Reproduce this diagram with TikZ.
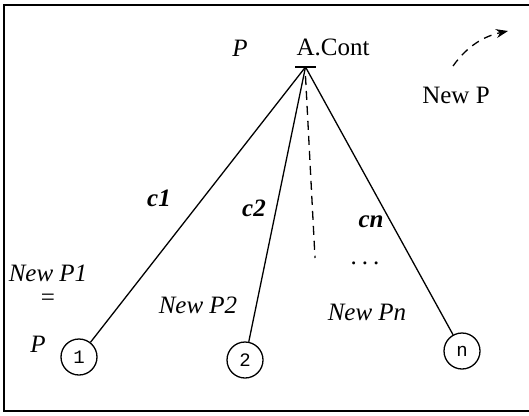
\documentclass[tikz,border=0pt]{standalone}
\usepackage{fontspec}
\setmainfont{Liberation Serif}
\setmonofont{Liberation Mono}
\usetikzlibrary{arrows.meta}
\tikzset{
  lbl/.style={inner sep=0pt, font=\fontsize{25}{29}\selectfont},
  ital/.style={lbl, font=\fontsize{25}{29}\selectfont\itshape},
  bolditl/.style={lbl, font=\fontsize{25}{29}\selectfont\bfseries\itshape},
  proc/.style={draw, circle, line width=1.3pt, minimum size=36pt, inner sep=0pt, font=\fontsize{19}{21}\selectfont\ttfamily},
  edge/.style={line width=1.3pt},
  frame/.style={line width=1.5pt}
}
\begin{document}
\begin{tikzpicture}[x=1pt,y=-1pt]
\useasboundingbox (0,0) rectangle (529,415);
% frame
\draw[frame] (529,5) -- (4,5) -- (4,411) -- (529,411);
% apex
\coordinate (apex) at (305.5,67);
\draw[line width=1.4pt] (apex) ++(-10.5,0) -- ++(21,0);
% labels near apex
\node[ital] (P) at (240,48) {P};
\node[lbl] (acont) at (333,47) {A.Cont};
% processes
\node[proc] (n1) at (79,357) {1};
\node[proc] (n2) at (245,360) {2};
\node[proc] (nn) at (462,351) {n};
% connectors
\draw[edge] (apex) -- (n1);
\draw[edge] (apex) -- (n2);
\draw[edge] (apex) -- (nn);
\coordinate (dend) at (315,258);
\draw[edge, dash pattern=on 9pt off 6pt] ([yshift=-9pt]apex) -- (dend);
% edge labels
\node[bolditl] (c1) at (159,198) {c1};
\node[bolditl] (c2) at (254,208) {c2};
\node[bolditl] (cn) at (371,222) {cn};
% other labels
\node[ital] (np1) at (48,273) {New P1};
\node[lbl, font=\fontsize{25}{29}\selectfont, text height=6pt, text depth=0pt] (eq) at (48,302) {=};
\node[ital] (p1) at (38,344) {P};
\node[ital] (np2) at (198,305) {New P2};
\node[ital] (npn) at (367,312) {New Pn};
\node[lbl] (dots) at (365,263) {.\hspace{5pt}.\hspace{5pt}.};
% New P with dashed arrow
\node[lbl] (newp) at (456,95) {New P};
\coordinate (as) at (453,66);
\coordinate (ae) at (508,31);
\draw[edge, dash pattern=on 8pt off 6pt, -{Stealth[length=12pt,width=9pt]}] (as) .. controls (468,45) and (485,36) .. (ae);
\end{tikzpicture}
\end{document}
